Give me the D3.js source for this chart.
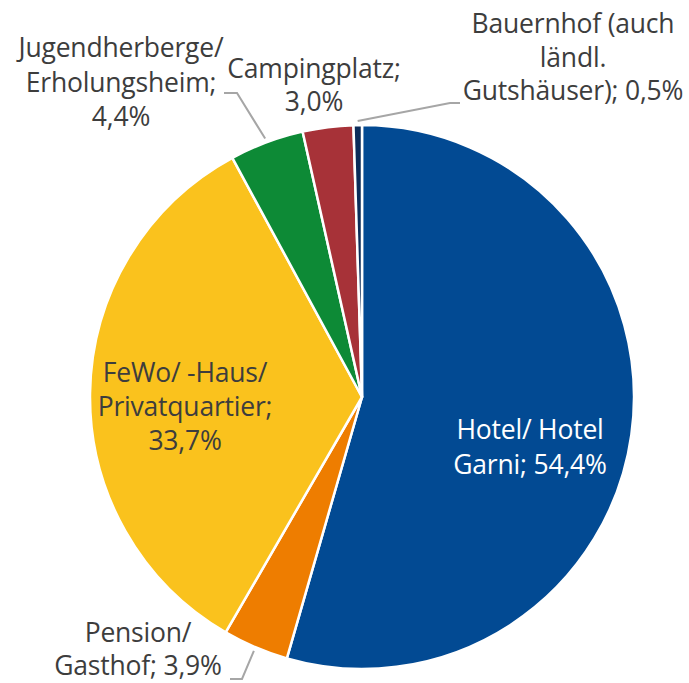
<!DOCTYPE html>
<meta charset="utf-8">
<style>
body { margin: 0; background: #fff; }
.lbl { font-family: "Open Sans", Lato, sans-serif; font-size: 26.5px; fill: #3d3d3d; letter-spacing: -0.2px; }
.lbl.inside-dark { fill: #fff; }
.leader { fill: none; stroke: #a6a6a6; stroke-width: 2px; }
</style>
<svg width="689" height="683"></svg>
<script src="https://d3js.org/d3.v7.min.js"></script>
<script>

// data, clockwise from 12 o'clock
var categories = ["Hotel/ Hotel Garni", "Pension/ Gasthof", "FeWo/ -Haus/ Privatquartier",
                  "Jugendherberge/ Erholungsheim", "Campingplatz", "Bauernhof (auch ländl. Gutshäuser)"];
var shares = [54.4, 3.9, 33.7, 4.4, 3.0, 0.5];
var labelLines = [
  ["Hotel/ Hotel", "Garni; 54,4%"],
  ["Pension/", "Gasthof; 3,9%"],
  ["FeWo/ -Haus/", "Privatquartier;", "33,7%"],
  ["Jugendherberge/", "Erholungsheim;", "4,4%"],
  ["Campingplatz;", "3,0%"],
  ["Bauernhof (auch", "ländl.", "Gutshäuser); 0,5%"]
];
var colors = ["#024a93", "#ee7d00", "#fac21d", "#0d8a36", "#a73238", "#0b2c5a"];

var svg = d3.select("svg"),
    cx = 362, cy = 397, radius = 272;

var g = svg.append("g").attr("transform", "translate(" + cx + "," + cy + ")");

var pie = d3.pie().sort(null).value(function(d) { return d; });
var arcs = pie(shares);

var arc = d3.arc().innerRadius(0).outerRadius(radius);
var edge = d3.arc().innerRadius(radius + 4).outerRadius(radius + 4);

g.selectAll("path.slice")
  .data(arcs)
  .enter().append("path")
    .attr("class", "slice")
    .attr("d", arc)
    .attr("fill", function(d, i) { return colors[i]; })
    .attr("stroke", "#fff")
    .attr("stroke-width", 2.5)
    .attr("stroke-linejoin", "round");

// label placement (page coords: block centre x, first baseline y, line step)
var labelPos = [
  {x: 530, y: 439, step: 35, inside: true},
  {x: 138, y: 642, step: 33},
  {x: 185, y: 382, step: 34},
  {x: 121, y: 57, step: 34.5},
  {x: 314, y: 78, step: 33},
  {x: 573, y: 33, step: 33.5}
];

labelLines.forEach(function(lines, i) {
  var p = labelPos[i];
  var t = svg.append("text")
    .attr("class", "lbl" + (p.inside ? " inside-dark" : ""))
    .attr("text-anchor", "middle");
  lines.forEach(function(s, j) {
    t.append("tspan")
      .attr("x", p.x)
      .attr("y", p.y + j * p.step)
      .text(s);
  });
});

// leader lines: from slice edge to elbow, then short horizontal
var leaders = [
  {i: 1, elbow: [242, 679], end: [230, 679]},
  {i: 3, elbow: [237, 93], end: [224, 93]},
  {i: 5, elbow: [450, 103], end: [460, 103]}
];
leaders.forEach(function(L) {
  var c = edge.centroid(arcs[L.i]);
  var pts = [[c[0] + cx, c[1] + cy], L.elbow, L.end];
  svg.append("path")
    .attr("class", "leader")
    .attr("d", d3.line()(pts));
});

</script>
